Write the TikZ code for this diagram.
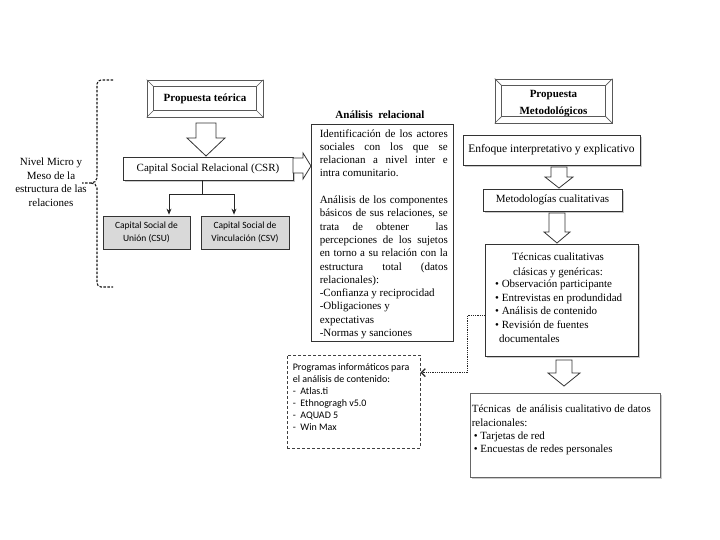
\documentclass[tikz,border=0pt]{standalone}
\usepackage{fontspec}
\setmainfont{Liberation Serif}
\newfontfamily\carlito{Carlito}
\usetikzlibrary{calc,arrows.meta,shadows}
\newcommand\blockdown[6]{\draw[harrow] (#1-#5,#2) -- (#1+#5,#2) -- (#1+#5,#3) -- (#1+#6,#3) -- (#1,#4) -- (#1-#6,#3) -- (#1-#5,#3) -- cycle;}
\begin{document}
\begin{tikzpicture}[x=1pt,y=-1pt,
  box/.style={draw=black!80, line width=0.8pt, fill=white, inner sep=0pt},
  bevel/.style={draw=black!65, line width=0.7pt, fill=white, inner sep=0pt},
  shad/.style={drop shadow={shadow xshift=2pt, shadow yshift=-2pt, fill=black!45, opacity=0.45}},
  harrow/.style={draw=black!80, line width=0.8pt, fill=white, line join=miter},
  conn/.style={draw=black!85, line width=0.8pt},
  txt/.style={font=\fontsize{11}{13.3}\selectfont, inner sep=0pt},
  sanstxt/.style={font=\carlito\fontsize{9.5}{13}\selectfont, inner sep=0pt},
  bracestyle/.style={black!90, line width=1.1pt, dash pattern=on 2.5pt off 1.5pt}
]
\useasboundingbox (0,0) rectangle (720,540);
\fill[white] (0,0) rectangle (720,540);

% left brace and label
\draw[bracestyle] (113,80) -- (101,80) to[out=180,in=90] (97,84) -- (97,178) to[out=-90,in=0] (91,183) -- (82,183);
\draw[bracestyle] (91,183) to[out=0,in=90] (97,188) -- (97,283) to[out=-90,in=180] (101,287) -- (113,287);
\node[txt, align=center, font=\fontsize{11}{13.5}\selectfont] (nivel) at (51,182) {Nivel Micro y\\Meso de la\\estructura de las\\relaciones};

% Propuesta teorica
\node[bevel, minimum width=116pt, minimum height=37pt, font=\bfseries\fontsize{11}{13}\selectfont] (pt) at (205,98.5) {Propuesta teórica};
\draw[black!65, line width=0.7pt] ($(pt.north west)+(7,7)$) rectangle ($(pt.south east)+(-7,-7)$);
\draw[black!65, line width=0.7pt] (pt.north west) -- +(7,7) (pt.north east) -- +(-7,7) (pt.south west) -- +(7,-7) (pt.south east) -- +(-7,-7);

\blockdown{206}{123}{138}{156}{10}{19}

% CSR
\node[box, shad, minimum width=170pt, minimum height=23pt, txt] (csr) at (208,168.5) {Capital Social Relacional (CSR)};
\draw[harrow] (293,158) -- (303,158) -- (303,153) -- (311,166) -- (303,179) -- (303,173) -- (293,173) -- cycle;

% CSU CSV
\node[box, fill=black!15, minimum width=87pt, minimum height=33pt, sanstxt, align=center, text depth=1pt] (csu) at (146.5,232.5) {Capital Social de\\Unión (CSU)};
\node[box, fill=black!15, minimum width=88pt, minimum height=33pt, sanstxt, align=center, text depth=1pt] (csv) at (245,232.5) {Capital Social de\\Vinculación (CSV)};
\coordinate (fork) at ($(csr.south)+(-6,14)$);
\draw[conn] ($(csr.south)+(-6,0)$) -- (fork);
\draw[conn,-{Stealth[length=6pt,width=5pt]}] (fork) -| ($(csu.north)+(22.5,-1)$);
\draw[conn,-{Stealth[length=6pt,width=5pt]}] (fork) -| ($(csv.north)+(-11,-1)$);

% Analisis relacional
\node[txt, font=\bfseries\fontsize{11}{13}\selectfont] (anat) at (380,115) {Análisis\ \ relacional};
\node[box, minimum width=142pt, minimum height=217pt] (ana) at (382,232.5) {};
\node[txt, anchor=north west, text width=128pt, align=justify] (anatext) at ($(ana.north west)+(9,5.5)$) {Identificación de los actores\linebreak sociales con los que se\linebreak relacionan a nivel inter e\linebreak intra comunitario.\par\vspace{13.3pt}Análisis de los componentes\linebreak básicos de sus relaciones, se\linebreak trata de obtener\ \ las\linebreak percepciones de los sujetos\linebreak en torno a su relación con la\linebreak estructura total (datos\linebreak relacionales):\newline -Confianza y reciprocidad\newline -Obligaciones y\newline expectativas\newline -Normas y sanciones};

% Propuesta metodologicos
\node[bevel, minimum width=117pt, minimum height=44pt] (pm) at (553.5,101) {};
\node[txt, font=\bfseries\fontsize{11}{17}\selectfont, align=center] (pmt) at ($(pm.center)+(0,2.5)$) {Propuesta\\Metodológicos};
\draw[black!65, line width=0.7pt] ($(pm.north west)+(7,7)$) rectangle ($(pm.south east)+(-7,-7)$);
\draw[black!65, line width=0.7pt] (pm.north west) -- +(7,7) (pm.north east) -- +(-7,7) (pm.south west) -- +(7,-7) (pm.south east) -- +(-7,-7);

\node[box, shad, minimum width=177pt, minimum height=30pt, txt, font=\fontsize{11.5}{13}\selectfont] (enf) at (551.5,150) {Enfoque interpretativo y explicativo};
\blockdown{559}{167}{177}{188}{8}{14}
\node[box, shad, minimum width=139pt, minimum height=22pt, txt] (met) at (552.5,200) {Metodologías cualitativas};
\blockdown{557}{213}{232}{243}{8}{13}

\node[box, shad, minimum width=153pt, minimum height=112pt] (tec) at (561.5,300) {};
\node[txt, align=center, font=\fontsize{11}{15}\selectfont] (tect) at (558,265.5) {Técnicas cualitativas\\clásicas y genéricas:};
\node[txt, align=left, anchor=north west, font=\fontsize{11}{13.75}\selectfont] (tecl) at (495,279.5) {• Observación participante\\• Entrevistas en produndidad\\• Análisis de contenido\\• Revisión de fuentes\\\hspace{4pt}documentales};

\blockdown{564}{360}{373}{386}{8}{16}
\node[box, shad, draw=black!60, minimum width=190pt, minimum height=84pt] (bot) at (565,435) {};
\node[txt, align=left, anchor=north west] (bott) at ($(bot.north west)+(2,12.5)$) {Técnicas\ \ de análisis cualitativo de datos\\relacionales:\\\hspace{2pt}• Tarjetas de red\\\hspace{2pt}• Encuestas de redes personales};

% Programas
\node[draw=black!75, line width=0.8pt, densely dashed, minimum width=133pt, minimum height=93pt, inner sep=0pt] (prog) at (353.5,401.5) {};
\node[sanstxt, font=\carlito\fontsize{10}{12}\selectfont, align=left, anchor=north west] (progt) at ($(prog.north west)+(6,8.5)$) {Programas informáticos para\\el análisis de contenido:\\-\ \ Atlas.ti\\-\ \ Ethnogragh v5.0\\-\ \ AQUAD 5\\-\ \ Win Max};
\coordinate (progin) at ($(prog.north east)+(0,18)$);
\draw[black!85, line width=0.8pt, densely dotted, -{Straight Barb[length=4pt,width=8pt,line width=1.3pt]}] ($(tec.west)+(0,15)$) -- ++(-17,0) |- (progin);
\end{tikzpicture}
\end{document}
